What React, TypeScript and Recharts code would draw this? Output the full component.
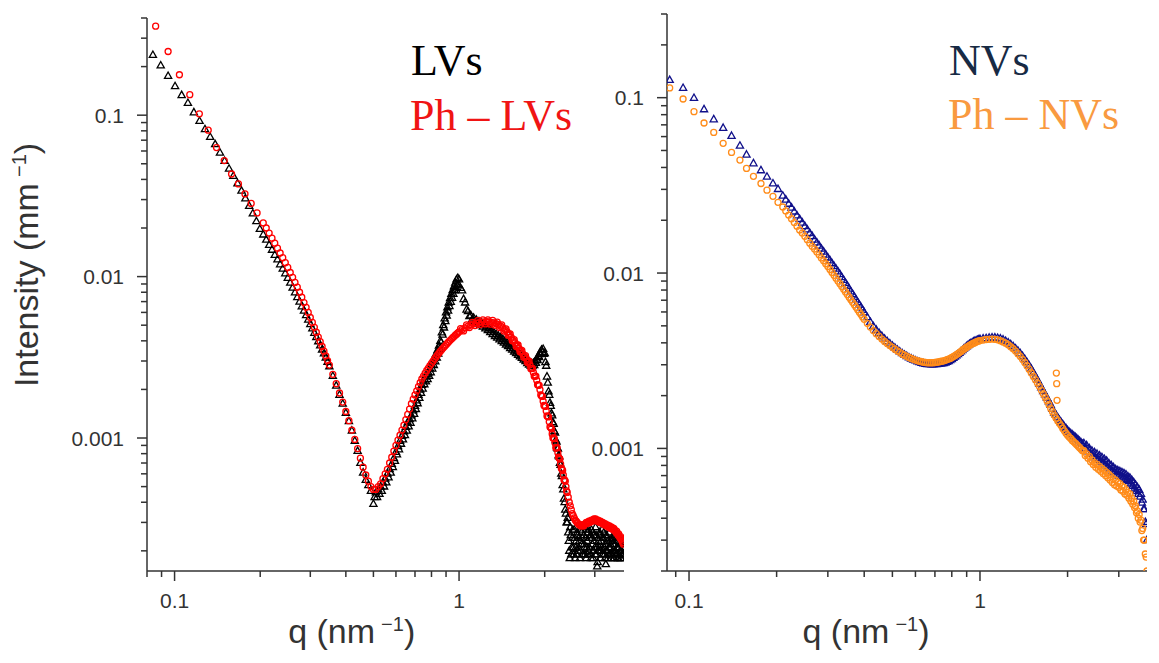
import React from 'react'
import { ScatterChart, Scatter, XAxis, YAxis, Label } from 'recharts'

type Pt = [number, number]

// ---- left panel: sparse low-q points (q nm^-1, I mm^-1) ----
const lvsStart: Pt[] = [
  [0.0839, 0.236], [0.0894, 0.203], [0.0949, 0.175], [0.1004, 0.151], [0.1059, 0.133], [0.1114, 0.119],
  [0.1169, 0.104], [0.1224, 0.092], [0.1279, 0.0818], [0.1334, 0.0733], [0.1389, 0.066], [0.1444, 0.0585],
  [0.1499, 0.052], [0.1554, 0.0466], [0.1609, 0.042], [0.1664, 0.0378], [0.1719, 0.034], [0.1774, 0.0305],
  [0.1829, 0.0274], [0.1884, 0.0246], [0.1939, 0.022], [0.1994, 0.0197],
]
const phLvsStart: Pt[] = [
  [0.0858, 0.356], [0.0949, 0.248], [0.104, 0.178], [0.1131, 0.134], [0.1222, 0.102], [0.1313, 0.0807],
  [0.1404, 0.063], [0.1495, 0.0523], [0.1586, 0.0432], [0.1677, 0.0375], [0.1768, 0.0325], [0.1859, 0.0284],
  [0.195, 0.0248],
]

// left panel dense q grid and the two curves on it
const qLeft = [
  0.205, 0.21, 0.215, 0.22, 0.225, 0.23, 0.235, 0.24, 0.245, 0.25,
  0.255, 0.26, 0.265, 0.27, 0.275, 0.28, 0.285, 0.29, 0.295, 0.3,
  0.305, 0.31, 0.315, 0.32, 0.325, 0.33, 0.335, 0.34, 0.345, 0.35,
  0.36, 0.37, 0.38, 0.39, 0.4, 0.41, 0.42, 0.43, 0.44, 0.45,
  0.46, 0.47, 0.48, 0.49, 0.5,
  0.51, 0.52, 0.53, 0.54, 0.55, 0.56, 0.57, 0.58, 0.59, 0.6,
  0.61, 0.62, 0.63, 0.64, 0.65, 0.66, 0.67, 0.68, 0.69, 0.7,
  0.71, 0.72, 0.73, 0.74, 0.75, 0.76, 0.77, 0.78, 0.79, 0.8,
  0.81, 0.82, 0.83, 0.84, 0.85, 0.86, 0.87, 0.88, 0.89, 0.9,
  0.91, 0.92, 0.93, 0.94, 0.95, 0.96, 0.97, 0.98, 0.99, 1.0,
  1.025, 1.05, 1.075, 1.1, 1.125, 1.15, 1.175, 1.2, 1.225, 1.25,
  1.275, 1.3, 1.325, 1.35, 1.375, 1.4, 1.425, 1.45, 1.475, 1.5,
  1.525, 1.55, 1.575, 1.6, 1.625, 1.65, 1.675, 1.7, 1.725, 1.75,
  1.775, 1.8, 1.825, 1.85, 1.875, 1.9, 1.925, 1.95, 1.975, 2.0,
  2.025, 2.05, 2.075, 2.1, 2.125, 2.15, 2.175, 2.2, 2.225, 2.25,
  2.275, 2.3, 2.325, 2.35, 2.375, 2.4,
  2.42, 2.44, 2.46, 2.48, 2.5, 2.52, 2.54, 2.56, 2.58, 2.6,
  2.62, 2.64, 2.66, 2.68, 2.7, 2.72, 2.74, 2.76, 2.78, 2.8,
  2.82, 2.84, 2.86, 2.88, 2.9, 2.92, 2.94, 2.96, 2.98, 3.0,
  3.02, 3.04, 3.06, 3.08, 3.1, 3.12, 3.14, 3.16, 3.18, 3.2,
  3.22, 3.24, 3.26, 3.28, 3.3, 3.32, 3.34, 3.36, 3.38, 3.4,
  3.42, 3.44, 3.46, 3.48, 3.5, 3.52, 3.54, 3.56, 3.58, 3.6,
  3.62, 3.64, 3.66, 3.68, 3.7, 3.72, 3.74, 3.76, 3.78,
]

const lvsDense = [
  0.0182, 0.0169, 0.0157, 0.01464, 0.0136, 0.01275, 0.0119, 0.01118, 0.01047, 0.00981,
  0.00915, 0.00852, 0.00797, 0.00745, 0.00698, 0.00653, 0.00614, 0.00576, 0.0054, 0.00507,
  0.00477, 0.00448, 0.00422, 0.00397, 0.00374, 0.00353, 0.00334, 0.00315, 0.00296, 0.00278,
  0.00242, 0.00211, 0.00185, 0.00163, 0.00143, 0.00127, 0.00111, 0.00096, 0.00083, 0.0007,
  0.00061, 0.00055, 0.00051, 0.00047, 0.00039,
  0.00046, 0.00048, 0.0005, 0.00053, 0.00056, 0.0006, 0.00064, 0.00069, 0.00075, 0.00082,
  0.00089, 0.00096, 0.00103, 0.0011, 0.00117, 0.00125, 0.00131, 0.00138, 0.00148, 0.00158,
  0.00171, 0.00185, 0.00199, 0.00213, 0.00227, 0.0024, 0.00248, 0.00255, 0.0027, 0.00285,
  0.003, 0.00315, 0.00332, 0.0035, 0.00373, 0.004, 0.0045, 0.005, 0.0055, 0.006,
  0.00645, 0.0069, 0.00735, 0.0078, 0.00825, 0.0087, 0.00915, 0.0096, 0.0098, 0.0096,
  0.0082, 0.0069, 0.0061, 0.00575, 0.00556, 0.0054, 0.00527, 0.00515, 0.00503, 0.0049,
  0.00478, 0.00465, 0.00452, 0.0044, 0.0043, 0.0042, 0.0041, 0.004, 0.0039, 0.0038,
  0.00371, 0.00362, 0.00353, 0.00345, 0.00337, 0.0033, 0.00322, 0.00315, 0.00307, 0.003,
  0.00294, 0.0029, 0.00291, 0.00298, 0.0031, 0.00322, 0.00338, 0.00352, 0.00356, 0.00335,
  0.0028, 0.0022, 0.00185, 0.00158, 0.00138, 0.00122, 0.00108, 0.00095, 0.00086, 0.00077,
  0.00068, 0.00058, 0.00048, 0.0004, 0.00034, 0.0003,
  0.00026, 0.0002, 0.00028, 0.00019, 0.00024, 0.00021, 0.00027, 0.00018, 0.00023, 0.00026,
  0.0002, 0.00024, 0.00018, 0.00027, 0.00022, 0.00019, 0.00025, 0.00021, 0.00028, 0.00018,
  0.00023, 0.00026, 0.0002, 0.00024, 0.00019, 0.00027, 0.00022, 0.00018, 0.00025, 0.00021,
  0.00028, 0.00019, 0.00016, 0.00024, 0.0002, 0.00026, 0.00018, 0.00023, 0.00027, 0.00019,
  0.00024, 0.00021, 0.00018, 0.000165, 0.00025, 0.0002, 0.00023, 0.00019, 0.00026, 0.00021,
  0.00018, 0.00024, 0.0002, 0.00022, 0.00018, 0.00025, 0.0002, 0.00019, 0.00023, 0.00018,
  0.00021, 0.00024, 0.00019, 0.0002, 0.00018, 0.00022, 0.00019, 0.00021, 0.00018,
]

// extra LVs points that give the band its spread (rise flank, mid plateau, noisy tail)
const lvsSpread: Pt[] = [
  [0.505, 0.00043], [0.515, 0.00043], [0.525, 0.00045], [0.535, 0.00047], [0.545, 0.0005],
  [0.555, 0.00053], [0.565, 0.00057], [0.575, 0.00061], [0.585, 0.00066], [0.595, 0.00072],
  [0.605, 0.00079], [0.615, 0.00085], [0.625, 0.00092], [0.635, 0.00098], [0.645, 0.00104],
  [0.655, 0.00111], [0.665, 0.00118], [0.675, 0.00124], [0.685, 0.00132], [0.695, 0.00141],
  [0.705, 0.00151], [0.715, 0.00164], [0.725, 0.00177], [0.735, 0.0019], [0.745, 0.00202],
  [0.755, 0.00215], [0.765, 0.00224], [0.775, 0.00231], [0.785, 0.00242], [0.795, 0.00255],
  [0.805, 0.00269], [0.815, 0.00283], [0.825, 0.00298], [0.835, 0.00314], [0.845, 0.00333],
  [0.855, 0.00356], [0.865, 0.00391], [0.875, 0.00437], [0.885, 0.00483], [0.895, 0.00529],
  [0.905, 0.00573], [0.915, 0.00614], [0.925, 0.00656], [0.935, 0.00697], [0.945, 0.00738],
  [0.955, 0.0078], [0.965, 0.00821], [0.975, 0.00862], [0.985, 0.00892], [0.995, 0.00892],
  [1.0125, 0.0085], [1.0375, 0.00725], [1.0625, 0.00624], [1.0875, 0.00568], [1.1125, 0.00543],
  [1.1375, 0.00526], [1.1625, 0.00512], [1.1875, 0.005], [1.2125, 0.00489], [1.2375, 0.00477],
  [1.2625, 0.00465], [1.2875, 0.00453], [1.3125, 0.0044], [1.3375, 0.00428], [1.3625, 0.00418],
  [1.3875, 0.00408], [1.4125, 0.00398], [1.4375, 0.00389], [1.4625, 0.00379], [1.4875, 0.0037],
  [1.5125, 0.0036], [1.5375, 0.00352], [1.5625, 0.00343], [1.5875, 0.00335], [1.6125, 0.00327],
  [1.6375, 0.0032], [1.6625, 0.00313], [1.6875, 0.00306], [1.7125, 0.00299], [1.7375, 0.00291],
  [1.7625, 0.00285], [1.7875, 0.0028], [1.8125, 0.00279], [1.8375, 0.00283], [1.8625, 0.00292],
  [1.8875, 0.00303], [1.9125, 0.00317], [1.9375, 0.00331], [1.9625, 0.0034], [1.9875, 0.00332],
  [2.0125, 0.00295], [2.0375, 0.0024], [2.0625, 0.00194], [2.0875, 0.00165], [2.1125, 0.00142],
  [2.1375, 0.00125], [2.1625, 0.0011], [2.1875, 0.00097], [2.2125, 0.00087], [2.2375, 0.00078],
  [2.2625, 0.0007], [2.2875, 0.0006], [2.3125, 0.00051], [2.3375, 0.00042], [2.3625, 0.00036],
  [2.3875, 0.0003],
  [2.41, 0.00032], [2.43, 0.00023], [2.45, 0.00018], [2.47, 0.00025], [2.49, 0.00021],
  [2.51, 0.00027], [2.53, 0.00019], [2.55, 0.00024], [2.57, 0.00021], [2.59, 0.00019],
  [2.61, 0.00025], [2.63, 0.00021], [2.65, 0.00023], [2.67, 0.0002], [2.69, 0.00026],
  [2.71, 0.00024], [2.73, 0.00019], [2.75, 0.00022], [2.77, 0.00019], [2.79, 0.00024],
  [2.81, 0.00021], [2.83, 0.00019], [2.85, 0.00027], [2.87, 0.00021], [2.89, 0.00025],
  [2.91, 0.00018], [2.93, 0.00024], [2.95, 0.00026], [2.97, 0.0002], [2.99, 0.00023],
  [3.01, 0.00019], [3.03, 0.00025], [3.05, 0.00021], [3.07, 0.00017], [3.09, 0.00023],
  [3.11, 0.00021], [3.13, 0.00025], [3.15, 0.0002], [3.17, 0.00021], [3.19, 0.00024],
  [3.21, 0.0002], [3.23, 0.00026], [3.25, 0.00019], [3.27, 0.00022], [3.29, 0.0002],
  [3.31, 0.00024], [3.33, 0.00018], [3.35, 0.00022], [3.37, 0.00021], [3.39, 0.00019],
  [3.41, 0.00022], [3.43, 0.00019], [3.45, 0.00023], [3.47, 0.00019], [3.49, 0.00024],
  [3.51, 0.00018], [3.53, 0.00022], [3.55, 0.00024], [3.57, 0.00019], [3.59, 0.00021],
  [3.61, 0.00023], [3.63, 0.00018], [3.65, 0.00021], [3.67, 0.00023], [3.69, 0.0002],
  [3.71, 0.00018], [3.73, 0.0002], [3.75, 0.00023], [3.77, 0.00019],
]

const phLvsDense = [
  0.0215, 0.02, 0.0186, 0.0173, 0.0161, 0.015, 0.014, 0.0131, 0.0122, 0.0114,
  0.0106, 0.0099, 0.0092, 0.0086, 0.008, 0.00745, 0.0069, 0.00645, 0.006, 0.00558,
  0.0052, 0.00485, 0.00452, 0.00422, 0.00395, 0.00369, 0.00345, 0.00323, 0.00302, 0.00283,
  0.00248, 0.00217, 0.0019, 0.00167, 0.00146, 0.00128, 0.00112, 0.00098, 0.00086, 0.00075,
  0.00066, 0.00059, 0.00054, 0.0005, 0.00048,
  0.00048, 0.0005, 0.00052, 0.00056, 0.0006, 0.00064, 0.0007, 0.00076, 0.00083, 0.0009,
  0.00097, 0.00104, 0.00112, 0.0012, 0.0013, 0.0014, 0.00151, 0.00163, 0.00174, 0.00185,
  0.00196, 0.00208, 0.0022, 0.00232, 0.00242, 0.00252, 0.00262, 0.00271, 0.00281, 0.0029,
  0.00299, 0.00309, 0.00318, 0.00327, 0.00336, 0.00345, 0.00353, 0.00362, 0.0037, 0.00378,
  0.00387, 0.00395, 0.00403, 0.0041, 0.00418, 0.00425, 0.00433, 0.0044, 0.00448, 0.00455,
  0.00469, 0.00481, 0.00493, 0.00502, 0.0051, 0.00515, 0.00519, 0.00522, 0.00524, 0.00525,
  0.00524, 0.00521, 0.00517, 0.00511, 0.00503, 0.00493, 0.00481, 0.00468, 0.00454, 0.00438,
  0.00421, 0.00403, 0.00388, 0.00373, 0.00359, 0.00346, 0.00332, 0.0032, 0.0031, 0.00297,
  0.00284, 0.0027, 0.00255, 0.00242, 0.00228, 0.00213, 0.00199, 0.00182, 0.00169, 0.00158,
  0.00147, 0.00136, 0.00126, 0.00116, 0.00106, 0.001, 0.00093, 0.00087, 0.00081, 0.00075,
  0.00069, 0.00064, 0.00059, 0.00055, 0.0005, 0.00046,
  0.00043, 0.0004, 0.00038, 0.00036, 0.00034, 0.00033, 0.00032, 0.00031, 0.000305, 0.0003,
  0.000295, 0.00029, 0.00029, 0.000285, 0.00029, 0.00029, 0.000285, 0.00029, 0.000295, 0.0003,
  0.000295, 0.0003, 0.000305, 0.0003, 0.000305, 0.00031, 0.000305, 0.00031, 0.000315, 0.00031,
  0.000315, 0.00031, 0.000305, 0.00031, 0.000305, 0.0003, 0.000305, 0.0003, 0.000295, 0.0003,
  0.000295, 0.00029, 0.000295, 0.00029, 0.000285, 0.00029, 0.000285, 0.00028, 0.000285, 0.00028,
  0.000275, 0.00028, 0.000275, 0.00027, 0.000275, 0.00027, 0.000265, 0.00026, 0.000265, 0.000255,
  0.00025, 0.000255, 0.000245, 0.00024, 0.000245, 0.000235, 0.00023, 0.000225, 0.00022,
]

const phLvsSpread: Pt[] = [
  [1.0125, 0.00476], [1.0375, 0.00461], [1.0625, 0.00502], [1.0875, 0.00483], [1.1125, 0.00521],
  [1.1375, 0.00497], [1.1625, 0.00533], [1.1875, 0.00505], [1.2125, 0.00539], [1.2375, 0.00509],
  [1.2625, 0.0054], [1.2875, 0.00507], [1.3125, 0.00535], [1.3375, 0.00499], [1.3625, 0.00522],
  [1.3875, 0.00483], [1.4125, 0.00502], [1.4375, 0.0046], [1.4625, 0.00475], [1.4875, 0.00433],
  [1.5125, 0.00442], [1.5375, 0.004], [1.5625, 0.00407], [1.5875, 0.00369], [1.6125, 0.00377],
  [1.6375, 0.00342], [1.6625, 0.00349], [1.6875, 0.00316], [1.7125, 0.00324], [1.7375, 0.00294],
  [1.7625, 0.00299], [1.7875, 0.00269], [1.8125, 0.0027], [1.8375, 0.00241], [1.8625, 0.00242],
  [1.8875, 0.00214], [1.9125, 0.00212], [1.9375, 0.00185], [1.9625, 0.00181], [1.9875, 0.00159],
  [2.0125, 0.00157], [2.0375, 0.00137], [2.0625, 0.00135], [2.0875, 0.00117], [2.1125, 0.00114],
  [2.1375, 0.001], [2.1625, 0.00099], [2.1875, 0.00087], [2.2125, 0.00087], [2.2375, 0.00076],
  [2.2625, 0.00074], [2.2875, 0.00065], [2.3125, 0.00063], [2.3375, 0.00055], [2.3625, 0.00054],
  [2.3875, 0.00047],
]

// ---- right panel ----
const nvsStart: Pt[] = [
  [0.0858, 0.126], [0.0954, 0.1136], [0.104, 0.0996], [0.1126, 0.0858], [0.1216, 0.0752], [0.131, 0.0672],
  [0.14, 0.0605], [0.1496, 0.0532], [0.1576, 0.0473], [0.1665, 0.0422], [0.1767, 0.0385], [0.1853, 0.0354],
  [0.1943, 0.0324], [0.2022, 0.0301],
]
const phNvsStart: Pt[] = [
  [0.0858, 0.1136], [0.0954, 0.0983], [0.104, 0.0832], [0.1126, 0.0717], [0.1216, 0.0634], [0.131, 0.0549],
  [0.14, 0.0487], [0.1496, 0.0441], [0.1576, 0.0395], [0.1665, 0.0356], [0.1767, 0.0324], [0.1853, 0.0297],
  [0.1943, 0.0274], [0.2022, 0.0253],
]
const phNvsSpike: Pt[] = [[1.83, 0.00269], [1.835, 0.00234], [1.84, 0.00188]]

const qRight = [
  0.21, 0.215, 0.22, 0.225, 0.23, 0.235, 0.24, 0.245, 0.25, 0.255,
  0.26, 0.265, 0.27, 0.275, 0.28, 0.285, 0.29, 0.295, 0.3, 0.305,
  0.31, 0.315, 0.32, 0.325, 0.33, 0.335, 0.34, 0.345, 0.35, 0.355,
  0.36, 0.365, 0.37, 0.375, 0.38, 0.385, 0.39, 0.395, 0.4,
  0.41, 0.42, 0.43, 0.44, 0.45, 0.46, 0.47, 0.48, 0.49, 0.5,
  0.51, 0.52, 0.53, 0.54, 0.55, 0.56, 0.57, 0.58, 0.59, 0.6,
  0.61, 0.62, 0.63, 0.64, 0.65, 0.66, 0.67, 0.68, 0.69, 0.7,
  0.71, 0.72, 0.73, 0.74, 0.75, 0.76, 0.77, 0.78, 0.79, 0.8,
  0.81, 0.82, 0.83, 0.84, 0.85, 0.86, 0.87, 0.88, 0.89, 0.9,
  0.91, 0.92, 0.93, 0.94, 0.95, 0.96, 0.97, 0.98, 0.99, 1.0,
  1.025, 1.05, 1.075, 1.1, 1.125, 1.15, 1.175, 1.2, 1.225, 1.25,
  1.275, 1.3, 1.325, 1.35, 1.375, 1.4, 1.425, 1.45, 1.475, 1.5,
  1.525, 1.55, 1.575, 1.6, 1.625, 1.65, 1.675, 1.7, 1.725, 1.75,
  1.775, 1.8, 1.825, 1.85, 1.875, 1.9, 1.925, 1.95, 1.975, 2.0,
  2.025, 2.05, 2.075, 2.1, 2.125, 2.15, 2.175, 2.2, 2.225, 2.25,
  2.275, 2.3, 2.325, 2.35, 2.375, 2.4, 2.425, 2.45, 2.475, 2.5,
  2.525, 2.55, 2.575, 2.6, 2.625, 2.65, 2.675, 2.7, 2.725, 2.75,
  2.775, 2.8, 2.825, 2.85, 2.875, 2.9, 2.925, 2.95, 2.975, 3.0,
  3.025, 3.05, 3.075, 3.1, 3.125, 3.15, 3.175, 3.2, 3.225, 3.25,
  3.275, 3.3, 3.325, 3.35, 3.375, 3.4, 3.425, 3.45, 3.475, 3.5,
  3.525, 3.55, 3.575, 3.6, 3.625, 3.65, 3.675, 3.7, 3.725, 3.75,
]

const nvsDense = [
  0.0276, 0.0262, 0.0248, 0.0236, 0.0224, 0.0213, 0.0203, 0.01937, 0.0185, 0.01772,
  0.0169, 0.01623, 0.0155, 0.01492, 0.01433, 0.01376, 0.01324, 0.01273, 0.01225, 0.0118,
  0.01136, 0.01095, 0.01057, 0.0102, 0.00985, 0.00947, 0.00912, 0.00878, 0.00845, 0.00815,
  0.00785, 0.00758, 0.00731, 0.00706, 0.00682, 0.00659, 0.00637, 0.00617, 0.00597,
  0.0056, 0.00526, 0.00497, 0.00474, 0.00455, 0.00437, 0.00422, 0.00408, 0.00396, 0.00385,
  0.00375, 0.00365, 0.00357, 0.00349, 0.00342, 0.00336, 0.0033, 0.00325, 0.00321, 0.00317,
  0.00313, 0.0031, 0.00307, 0.00305, 0.00303, 0.00302, 0.00302, 0.00301, 0.00301, 0.00302,
  0.00302, 0.00303, 0.00304, 0.00305, 0.00306, 0.00308, 0.00311, 0.00314, 0.00318, 0.00323,
  0.00328, 0.00333, 0.00339, 0.00344, 0.0035, 0.00357, 0.00363, 0.0037, 0.00376, 0.00382,
  0.00388, 0.00393, 0.00398, 0.00402, 0.00406, 0.00409, 0.00412, 0.00415, 0.00418, 0.0042,
  0.00423, 0.00425, 0.00427, 0.00428, 0.00428, 0.00426, 0.00423, 0.00417, 0.0041, 0.00402,
  0.00392, 0.00382, 0.00371, 0.0036, 0.00348, 0.00336, 0.00323, 0.0031, 0.00297, 0.00284,
  0.00271, 0.00258, 0.00246, 0.00234, 0.00223, 0.00212, 0.00203, 0.00194, 0.00185, 0.00177,
  0.00168, 0.0016, 0.00155, 0.0015, 0.00145, 0.00141, 0.00137, 0.00133, 0.0013, 0.00127,
  0.00124, 0.00122, 0.0012, 0.00118, 0.00116, 0.00114, 0.00112, 0.0011, 0.00108, 0.00106,
  0.00107, 0.001, 0.00104, 0.00096, 0.001, 0.00093, 0.00097, 0.0009, 0.00095, 0.00088,
  0.00093, 0.00086, 0.00091, 0.00084, 0.00089, 0.00082, 0.00087, 0.0008, 0.00085, 0.00078,
  0.00082, 0.00076, 0.0008, 0.00074, 0.00078, 0.00073, 0.00076, 0.00071, 0.00075, 0.0007,
  0.00074, 0.00069, 0.00073, 0.00068, 0.00072, 0.00067, 0.00071, 0.00066, 0.00069, 0.00065,
  0.00068, 0.00063, 0.00066, 0.00061, 0.00064, 0.00059, 0.00062, 0.00057, 0.0006, 0.00055,
  0.00058, 0.00053, 0.00055, 0.00049, 0.00051, 0.00045, 0.00045, 0.00038, 0.00037, 0.0003,
]

const phNvsDense = [
  0.0238, 0.0226, 0.0214, 0.0204, 0.0194, 0.0185, 0.0176, 0.0169, 0.0162, 0.0155,
  0.0148, 0.0142, 0.0137, 0.0132, 0.0127, 0.0122, 0.01175, 0.0113, 0.0109, 0.01048,
  0.01008, 0.0097, 0.00935, 0.009, 0.00868, 0.00837, 0.00808, 0.0078, 0.00754, 0.00728,
  0.00704, 0.00681, 0.00659, 0.00638, 0.00618, 0.00598, 0.0058, 0.00562, 0.00545,
  0.00517, 0.00492, 0.0047, 0.00451, 0.00435, 0.0042, 0.00407, 0.00396, 0.00386, 0.00377,
  0.00368, 0.0036, 0.00353, 0.00346, 0.0034, 0.00335, 0.0033, 0.00326, 0.00322, 0.00319,
  0.00316, 0.00314, 0.00312, 0.0031, 0.00309, 0.00308, 0.00308, 0.00308, 0.00308, 0.00309,
  0.0031, 0.00311, 0.00313, 0.00314, 0.00316, 0.00318, 0.00321, 0.00323, 0.00326, 0.0033,
  0.00334, 0.00338, 0.00343, 0.00347, 0.00352, 0.00357, 0.00363, 0.00368, 0.00373, 0.00378,
  0.00382, 0.00387, 0.00391, 0.00395, 0.00398, 0.00401, 0.00405, 0.00408, 0.0041, 0.00412,
  0.00415, 0.00418, 0.00419, 0.0042, 0.00419, 0.00416, 0.00411, 0.00405, 0.00398, 0.0039,
  0.0038, 0.0037, 0.00359, 0.00347, 0.00335, 0.00322, 0.00309, 0.00296, 0.00283, 0.0027,
  0.00258, 0.00247, 0.00236, 0.00226, 0.00215, 0.00205, 0.00196, 0.00187, 0.00178, 0.00169,
  0.00162, 0.00155, 0.00149, 0.00144, 0.00139, 0.00135, 0.0013, 0.00126, 0.00122, 0.00119,
  0.00116, 0.00114, 0.00111, 0.00109, 0.00107, 0.00105, 0.00103, 0.00101, 0.00099, 0.00097,
  0.00097, 0.00091, 0.00093, 0.00088, 0.0009, 0.00084, 0.00086, 0.00081, 0.00083, 0.00078,
  0.00081, 0.00076, 0.00079, 0.00074, 0.00077, 0.00072, 0.00075, 0.0007, 0.00073, 0.00068,
  0.00071, 0.00066, 0.00069, 0.00064, 0.00067, 0.00062, 0.00066, 0.00061, 0.00064, 0.0006,
  0.00063, 0.00058, 0.00061, 0.00057, 0.0006, 0.00055, 0.00058, 0.00054, 0.00056, 0.00052,
  0.00055, 0.0005, 0.00052, 0.00048, 0.0005, 0.00046, 0.00047, 0.00043, 0.00044, 0.0004,
  0.00042, 0.00038, 0.00039, 0.00034, 0.00035, 0.0003, 0.0003, 0.00025, 0.00024, 0.0002,
]

const leftXTicks = [0.08, 0.09, 0.1, 0.2, 0.3, 0.4, 0.5, 0.6, 0.7, 0.8, 0.9, 1, 2, 3]
const rightXTicks = [0.09, 0.1, 0.2, 0.3, 0.4, 0.5, 0.6, 0.7, 0.8, 0.9, 1, 2, 3]
const leftYTicks = [
  0.0002, 0.0003, 0.0004, 0.0005, 0.0006, 0.0007, 0.0008, 0.0009, 0.001, 0.002, 0.003, 0.004, 0.005,
  0.006, 0.007, 0.008, 0.009, 0.01, 0.02, 0.03, 0.04, 0.05, 0.06, 0.07, 0.08, 0.09, 0.1, 0.2, 0.3, 0.4,
]
const rightYTicks = leftYTicks.filter((t) => t <= 0.3)

const AXIS = '#333'
const SANS = '"Liberation Sans", Arial, sans-serif'
const SERIF = '"Liberation Serif", "Times New Roman", serif'

const toRows = (pts: Pt[]) => pts.map(([q, i]) => ({ q, i }))
const zipRows = (q: number[], v: number[]) => q.map((x, k) => ({ q: x, i: v[k] }))

const lvsRows = [...toRows(lvsStart), ...zipRows(qLeft, lvsDense), ...toRows(lvsSpread)]
const phLvsRows = [...toRows(phLvsStart), ...zipRows(qLeft, phLvsDense), ...toRows(phLvsSpread)]
const nvsRows = [...toRows(nvsStart), ...zipRows(qRight, nvsDense)]
const phNvsRows = [...toRows(phNvsStart), ...zipRows(qRight, phNvsDense), ...toRows(phNvsSpike)]

const isDecade = (v: number) => Math.abs(Math.log10(v) - Math.round(Math.log10(v))) < 1e-6

const YTick = (props: any) => {
  const { x, y, payload } = props
  const major = isDecade(payload.value)
  return (
    <g>
      <line x1={x - (major ? 10 : 6)} x2={x} y1={y} y2={y} stroke={AXIS} strokeWidth={1.5} />
      {major && (
        <text x={x - 23} y={y + 7.5} textAnchor="end" fontSize={21} fontFamily={SANS} fill="#333">
          {String(payload.value)}
        </text>
      )}
    </g>
  )
}

const XTick = (props: any) => {
  const { x, y, payload } = props
  const major = isDecade(payload.value)
  return (
    <g>
      <line x1={x} x2={x} y1={y} y2={y + (major ? 10 : 6)} stroke={AXIS} strokeWidth={1.5} />
      {major && (
        <text x={x} y={y + 37} textAnchor="middle" fontSize={21} fontFamily={SANS} fill="#333">
          {String(payload.value)}
        </text>
      )}
    </g>
  )
}

const triangle = (color: string) => (p: any) => (
  <path
    d={`M${p.cx},${p.cy - 4}L${p.cx + 3.6},${p.cy + 2.4}L${p.cx - 3.6},${p.cy + 2.4}Z`}
    fill="none"
    stroke={color}
    strokeWidth={1.3}
  />
)

const circle = (color: string) => (p: any) => (
  <circle cx={p.cx} cy={p.cy} r={3} fill="none" stroke={color} strokeWidth={1.3} />
)

const QTitle = ({ cx }: { cx: number }) => (
  <text x={cx} y={643} textAnchor="middle" fontSize={34} fontFamily={SANS} fill="#333">
    q (nm
    <tspan dx={6} dy={-12} fontSize={20}>
      −1
    </tspan>
    <tspan dy={12}>)</tspan>
  </text>
)

const App: React.FC = () => {
  return (
    <div style={{ position: 'absolute', left: 0, top: 0, width: 1159, height: 663, background: '#fff' }}>
      <div style={{ position: 'absolute', left: 0, top: 0 }}>
        <ScatterChart width={640} height={663} margin={{ top: 18, right: 16, bottom: 0, left: 0 }}>
          <XAxis
            dataKey="q"
            type="number"
            scale="log"
            domain={[0.08, 3.8]}
            allowDataOverflow
            ticks={leftXTicks}
            interval={0}
            height={92}
            tickSize={0}
            tickMargin={0}
            tickLine={false}
            tick={<XTick />}
            axisLine={{ stroke: AXIS, strokeWidth: 1.5 }}
          >
            <Label content={() => <QTitle cx={351.7} />} />
          </XAxis>
          <YAxis
            dataKey="i"
            type="number"
            scale="log"
            domain={[0.00015, 0.4]}
            allowDataOverflow
            ticks={leftYTicks}
            interval={0}
            width={147}
            tickSize={0}
            tickMargin={0}
            tickLine={false}
            tick={<YTick />}
            axisLine={{ stroke: AXIS, strokeWidth: 1.5 }}
          >
            <Label
              content={() => (
                <text
                  x={38}
                  y={265}
                  transform="rotate(-90, 38, 265)"
                  textAnchor="middle"
                  fontSize={34}
                  fontFamily={SANS}
                  fill="#333"
                >
                  Intensity (mm
                  <tspan dx={6} dy={-12} fontSize={20}>
                    −1
                  </tspan>
                  <tspan dy={12}>)</tspan>
                </text>
              )}
            />
          </YAxis>
          <Scatter data={lvsRows} shape={triangle('#000')} isAnimationActive={false} />
          <Scatter data={phLvsRows} shape={circle('#ff0000')} isAnimationActive={false} />
          <text x={411} y={75} fontSize={44} fontFamily={SERIF} fill="#000">
            LVs
          </text>
          <text x={410} y={130} fontSize={44} fontFamily={SERIF} fill="#f01414">
            Ph – LVs
          </text>
        </ScatterChart>
      </div>
      <div style={{ position: 'absolute', left: 560, top: 0 }}>
        <ScatterChart width={599} height={663} margin={{ top: 14, right: 12, bottom: 0, left: 0 }}>
          <XAxis
            dataKey="q"
            type="number"
            scale="log"
            domain={[0.084, 3.75]}
            allowDataOverflow
            ticks={rightXTicks}
            interval={0}
            height={92}
            tickSize={0}
            tickMargin={0}
            tickLine={false}
            tick={<XTick />}
            axisLine={{ stroke: AXIS, strokeWidth: 1.5 }}
          >
            <Label content={() => <QTitle cx={306} />} />
          </XAxis>
          <YAxis
            dataKey="i"
            type="number"
            scale="log"
            domain={[0.0002, 0.3]}
            allowDataOverflow
            ticks={rightYTicks}
            interval={0}
            width={107}
            tickSize={0}
            tickMargin={0}
            tickLine={false}
            tick={<YTick />}
            axisLine={{ stroke: AXIS, strokeWidth: 1.5 }}
          />
          <Scatter data={nvsRows} shape={triangle('#10108a')} isAnimationActive={false} />
          <Scatter data={phNvsRows} shape={circle('#ff8c1a')} isAnimationActive={false} />
          <text x={389} y={75} fontSize={44} fontFamily={SERIF} fill="#172a44">
            NVs
          </text>
          <text x={388} y={129} fontSize={44} fontFamily={SERIF} fill="#f99a40">
            Ph – NVs
          </text>
        </ScatterChart>
      </div>
    </div>
  )
}

export default App
